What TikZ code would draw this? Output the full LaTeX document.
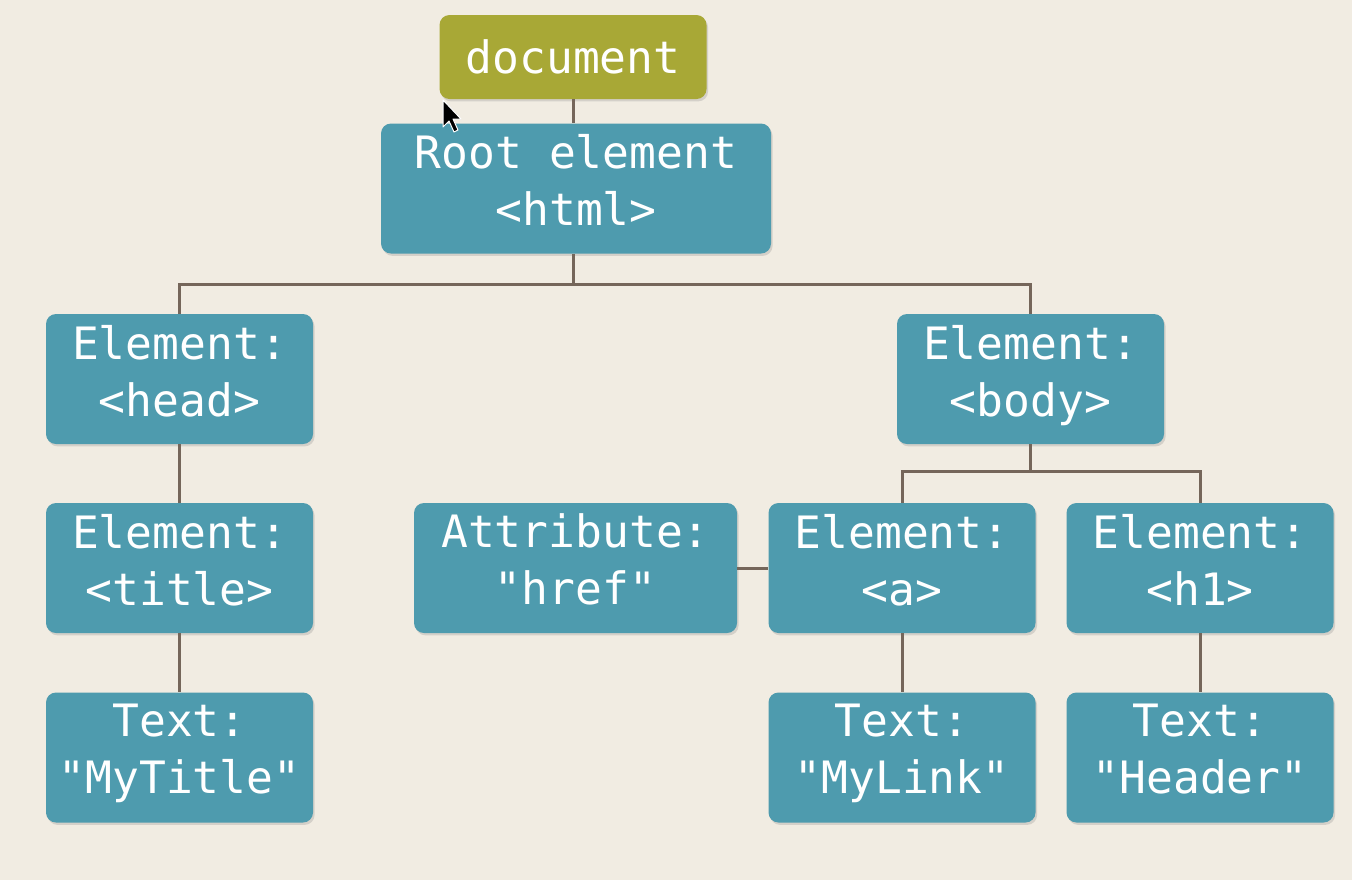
\documentclass[tikz,border=0pt]{standalone}
\usepackage{fontspec}
\setmonofont{DejaVu Sans Mono}
\usetikzlibrary{shadows}
\definecolor{bg}{HTML}{F1ECE2}
\definecolor{teal}{HTML}{4E9BAE}
\definecolor{olive}{HTML}{A8A836}
\definecolor{wire}{HTML}{75665A}
\tikzset{
  x=0.5pt,y=-0.5pt,
  basebox/.style={fill=teal, rounded corners=5pt, text=white, align=center,
    font=\ttfamily\fontsize{22.3}{28.5}\selectfont, inner sep=0pt,
    minimum width=133.5pt, minimum height=65pt,
    drop shadow={opacity=0.25, shadow xshift=0.8pt, shadow yshift=-1.2pt}},
  box/.style={basebox, execute at begin node=\strut, execute at end node=\strut},
  docbox/.style={basebox, fill=olive, minimum height=42pt},
  wireline/.style={draw=wire, line width=1.5pt}
}
\begin{document}
\begin{tikzpicture}
\fill[bg] (0,0) rectangle (1352,880);
\useasboundingbox (0,0) rectangle (1352,880);
\coordinate (rootbus) at (573,284);
\coordinate (bodybus) at (1030,471);
\node[docbox] (doc) at (573,57) {document};
\node[box, minimum width=195pt] (root) at (576,188.5) {Root element\\<html>};
\node[box] (head) at (179.5,379) {Element:\\<head>};
\node[box] (body) at (1030.5,379) {Element:\\<body>};
\node[box] (title) at (179.5,568) {Element:\\<title>};
\node[box, minimum width=161.5pt] (attr) at (575.5,568) {Attribute:\\"href"};
\node[box] (a) at (902,568) {Element:\\<a>};
\node[box] (h1) at (1200,568) {Element:\\<h1>};
\node[box] (ttitle) at (179.5,757.5) {Text:\\"MyTitle"};
\node[box] (tlink) at (902,757.5) {Text:\\"MyLink"};
\node[box] (theader) at (1200,757.5) {Text:\\"Header"};
\draw[wireline] (doc.south) -- (doc.south |- root.north);
\draw[wireline] (root.south -| rootbus) -- (rootbus);
\draw[wireline] (head.north) |- (rootbus) -| (body.north);
\draw[wireline] (head.south) -- (title.north);
\draw[wireline] (title.south) -- (ttitle.north);
\draw[wireline] (body.south -| bodybus) -- (bodybus);
\draw[wireline] (a.north) |- (bodybus) -| (h1.north);
\draw[wireline] (attr.east) -- (a.west);
\draw[wireline] (a.south) -- (tlink.north);
\draw[wireline] (h1.south) -- (theader.north);
% mouse cursor
\filldraw[fill=black, draw=white, line width=0.5pt, line join=round]
  (443,100) -- (443,127) -- (449,121) -- (454,132) -- (458,130) -- (453,119) -- (461,119) -- cycle;
\end{tikzpicture}
\end{document}
